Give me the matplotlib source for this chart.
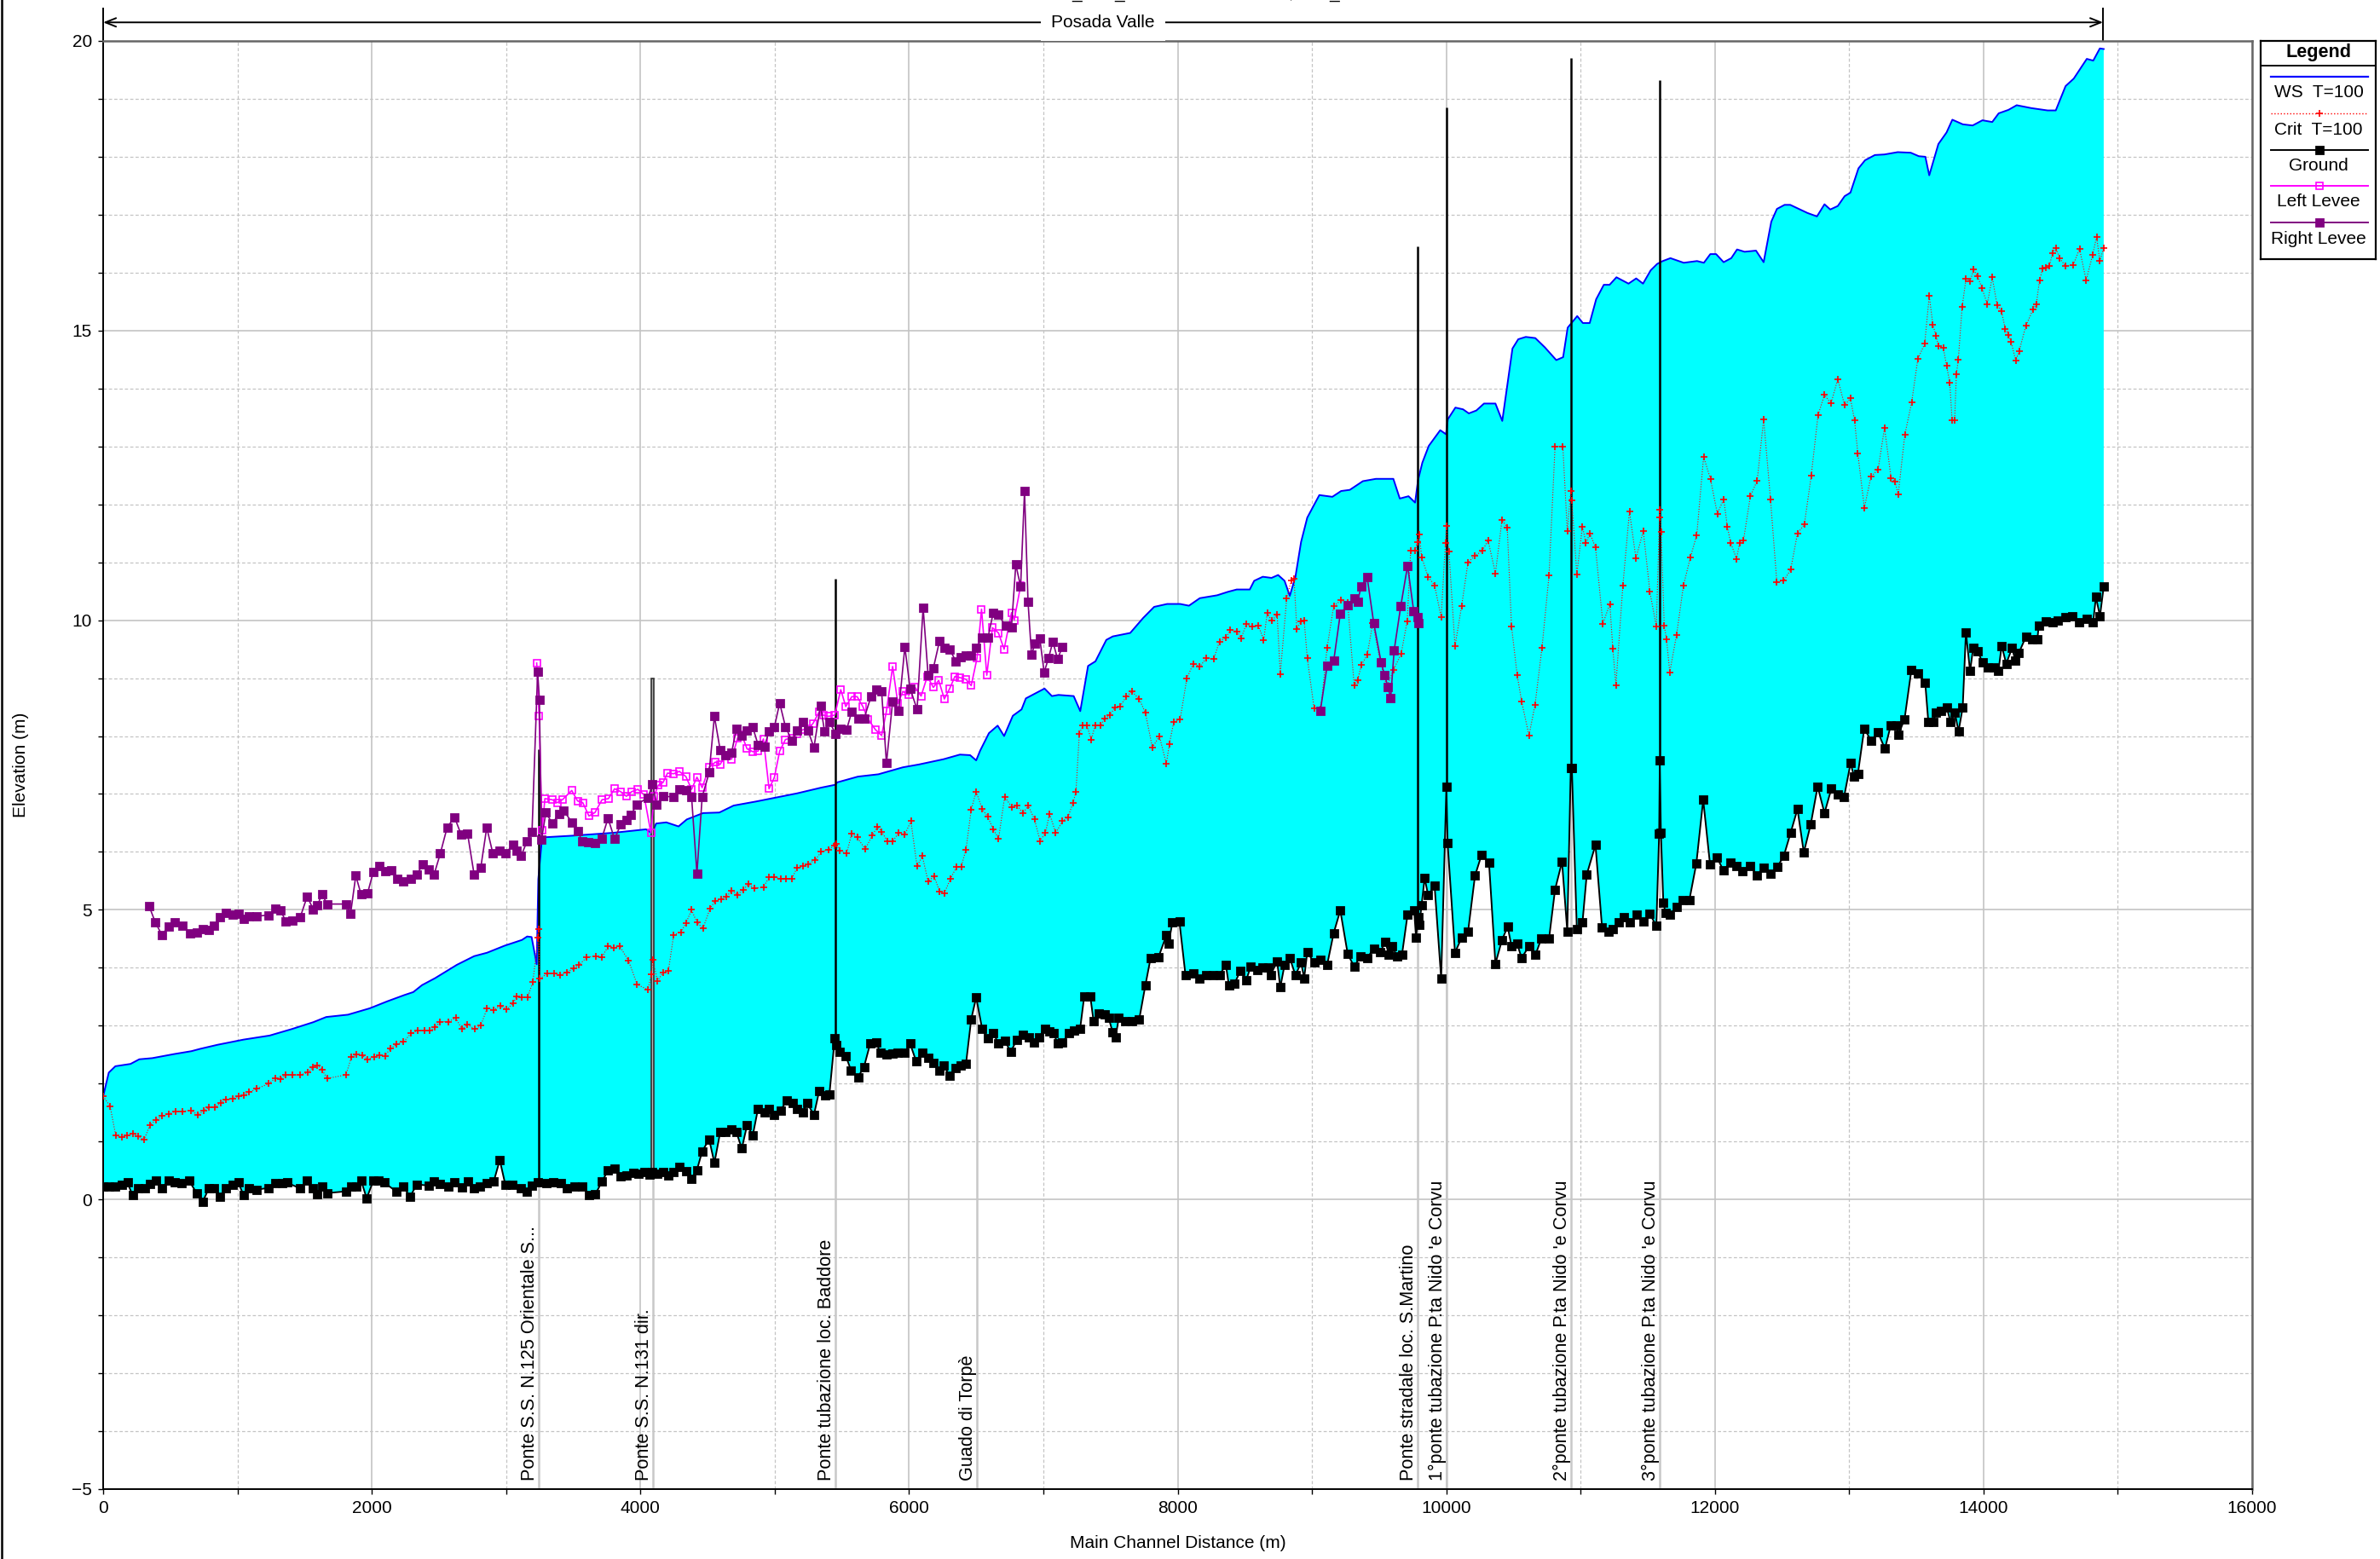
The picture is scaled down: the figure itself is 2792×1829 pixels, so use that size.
import numpy as np
import matplotlib.pyplot as plt
from matplotlib.ticker import MultipleLocator
from matplotlib.lines import Line2D

plt.rcParams['font.family'] = ['Liberation Sans', 'DejaVu Sans']

# --- profile data: (main channel distance m, elevation m) ---
ws_pts = [
    (0, 1.78), (42, 2.19), (91, 2.3), (204, 2.34), (269, 2.42), (366, 2.44), (528, 2.51), (657, 2.56),
    (722, 2.6), (851, 2.67), (1046, 2.76), (1240, 2.83), (1402, 2.94), (1564, 3.06), (1661, 3.15),
    (1823, 3.19), (1985, 3.3), (2115, 3.42), (2244, 3.53), (2309, 3.58), (2374, 3.7), (2471, 3.82),
    (2633, 4.05), (2762, 4.2), (2859, 4.26), (2988, 4.38), (3118, 4.48), (3157, 4.54), (3190, 4.53),
    (3228, 4.06), (3240, 5.53), (3268, 6.25), (3495, 6.28), (3799, 6.33), (4042, 6.39), (4087, 6.32),
    (4117, 6.49), (4193, 6.51), (4284, 6.44), (4345, 6.56), (4466, 6.67), (4588, 6.68), (4694, 6.8),
    (4861, 6.87), (5013, 6.94), (5165, 7.01), (5347, 7.11), (5453, 7.16), (5465, 7.2), (5620, 7.3),
    (5772, 7.34), (5954, 7.46), (6075, 7.51), (6257, 7.6), (6379, 7.68), (6455, 7.67), (6500, 7.58),
    (6530, 7.75), (6595, 8.05), (6660, 8.18), (6708, 8.0), (6773, 8.35), (6838, 8.46), (6870, 8.65),
    (6951, 8.75), (7009, 8.82), (7064, 8.69), (7113, 8.71), (7226, 8.69), (7275, 8.43), (7333, 9.21),
    (7388, 9.29), (7469, 9.66), (7517, 9.72), (7647, 9.78), (7744, 10.04), (7825, 10.23), (7922, 10.28),
    (8019, 10.28), (8084, 10.25), (8165, 10.38), (8294, 10.43), (8375, 10.49), (8440, 10.53),
    (8537, 10.53), (8570, 10.68), (8634, 10.75), (8699, 10.73), (8748, 10.78), (8796, 10.68),
    (8835, 10.42), (8877, 10.75), (8919, 11.35), (8965, 11.77), (9055, 12.16), (9152, 12.13),
    (9217, 12.23), (9282, 12.25), (9379, 12.4), (9476, 12.44), (9606, 12.44), (9654, 12.1),
    (9719, 12.14), (9768, 12.03), (9790, 12.42), (9822, 12.72), (9870, 13.01), (9955, 13.28),
    (9998, 13.21), (10012, 13.47), (10068, 13.67), (10125, 13.64), (10168, 13.57), (10224, 13.62),
    (10281, 13.74), (10366, 13.74), (10417, 13.44), (10451, 14.0), (10493, 14.69), (10536, 14.85),
    (10592, 14.89), (10663, 14.87), (10734, 14.71), (10819, 14.49), (10870, 14.54), (10904, 15.05),
    (10975, 15.25), (11017, 15.13), (11068, 15.13), (11116, 15.54), (11173, 15.79), (11216, 15.79),
    (11267, 15.92), (11357, 15.81), (11414, 15.9), (11465, 15.81), (11522, 16.04), (11570, 16.15),
    (11612, 16.2), (11669, 16.25), (11768, 16.17), (11867, 16.2), (11918, 16.17), (11966, 16.32),
    (12009, 16.32), (12065, 16.18), (12122, 16.25), (12165, 16.4), (12221, 16.36), (12306, 16.38),
    (12363, 16.18), (12420, 16.88), (12462, 17.1), (12519, 17.17), (12561, 17.17), (12689, 17.03),
    (12760, 16.97), (12816, 17.18), (12859, 17.09), (12915, 17.15), (12966, 17.32), (13009, 17.38),
    (13069, 17.8), (13118, 17.94), (13191, 18.03), (13263, 18.04), (13361, 18.08), (13458, 18.07),
    (13518, 18.01), (13567, 18.0), (13596, 17.68), (13664, 18.22), (13725, 18.42), (13768, 18.64),
    (13846, 18.56), (13919, 18.54), (13992, 18.63), (14065, 18.6), (14113, 18.75), (14186, 18.81),
    (14247, 18.89), (14356, 18.84), (14477, 18.8), (14538, 18.8), (14611, 19.22), (14672, 19.35),
    (14769, 19.69), (14817, 19.66), (14866, 19.87), (14895, 19.86),
]

crit_pts = [
    (0, 1.78), (52, 1.61), (94, 1.1), (139, 1.07), (178, 1.1), (220, 1.14), (262, 1.09), (304, 1.03),
    (350, 1.29), (392, 1.37), (440, 1.44), (489, 1.48), (541, 1.52), (593, 1.52), (651, 1.54),
    (706, 1.46), (748, 1.53), (787, 1.59), (832, 1.59), (877, 1.67), (916, 1.73), (965, 1.74),
    (1007, 1.78), (1046, 1.8), (1085, 1.85), (1143, 1.91), (1234, 2.0), (1279, 2.09), (1321, 2.08),
    (1360, 2.15), (1409, 2.15), (1467, 2.15), (1525, 2.19), (1564, 2.29), (1596, 2.32), (1629, 2.24),
    (1668, 2.09), (1807, 2.15), (1849, 2.46), (1888, 2.51), (1927, 2.49), (1969, 2.42), (2017, 2.46),
    (2056, 2.49), (2098, 2.48), (2140, 2.61), (2186, 2.68), (2237, 2.72), (2293, 2.87), (2341, 2.91),
    (2390, 2.91), (2432, 2.91), (2471, 2.97), (2510, 3.07), (2568, 3.07), (2626, 3.13), (2671, 2.94),
    (2713, 3.02), (2768, 2.94), (2811, 3.0), (2859, 3.3), (2908, 3.27), (2956, 3.34), (3005, 3.28),
    (3053, 3.39), (3079, 3.51), (3118, 3.49), (3160, 3.49), (3199, 3.75), (3238, 4.52), (3241, 4.67),
    (3250, 3.81), (3306, 3.9), (3355, 3.9), (3404, 3.88), (3452, 3.92), (3504, 3.99), (3543, 4.05),
    (3601, 4.18), (3666, 4.2), (3714, 4.18), (3759, 4.37), (3804, 4.35), (3847, 4.37), (3912, 4.12),
    (3976, 3.71), (4057, 3.62), (4081, 3.89), (4093, 4.14), (4127, 3.77), (4169, 3.92), (4208, 3.94),
    (4248, 4.57), (4300, 4.61), (4339, 4.77), (4381, 5.0), (4421, 4.78), (4466, 4.68), (4518, 5.02),
    (4558, 5.16), (4603, 5.18), (4642, 5.23), (4679, 5.33), (4724, 5.26), (4764, 5.35), (4806, 5.44),
    (4846, 5.37), (4916, 5.39), (4958, 5.56), (4998, 5.56), (5043, 5.54), (5083, 5.54), (5128, 5.54),
    (5165, 5.72), (5210, 5.75), (5249, 5.79), (5301, 5.86), (5347, 6.0), (5401, 6.04), (5447, 6.11),
    (5455, 6.14), (5483, 6.02), (5535, 5.97), (5574, 6.32), (5614, 6.25), (5674, 6.05), (5726, 6.28),
    (5765, 6.44), (5796, 6.35), (5838, 6.19), (5878, 6.18), (5923, 6.33), (5969, 6.3), (6014, 6.53),
    (6060, 5.75), (6099, 5.93), (6142, 5.49), (6187, 5.58), (6227, 5.32), (6263, 5.29), (6309, 5.54),
    (6354, 5.74), (6388, 5.74), (6424, 6.04), (6463, 6.73), (6500, 7.04), (6545, 6.74), (6585, 6.61),
    (6627, 6.39), (6667, 6.23), (6712, 6.95), (6767, 6.77), (6803, 6.8), (6849, 6.67), (6888, 6.8),
    (6934, 6.56), (6976, 6.19), (7016, 6.33), (7046, 6.66), (7092, 6.33), (7143, 6.53), (7183, 6.6),
    (7222, 6.85), (7243, 7.04), (7268, 8.04), (7295, 8.18), (7325, 8.18), (7356, 7.94), (7386, 8.18),
    (7426, 8.18), (7456, 8.3), (7495, 8.36), (7532, 8.49), (7571, 8.51), (7617, 8.68), (7659, 8.77),
    (7714, 8.64), (7760, 8.4), (7812, 7.8), (7864, 8.0), (7916, 7.52), (7938, 7.86), (7971, 8.24),
    (8019, 8.29), (8068, 8.99), (8116, 9.25), (8165, 9.2), (8213, 9.34), (8268, 9.33), (8311, 9.63),
    (8359, 9.7), (8392, 9.83), (8440, 9.81), (8473, 9.69), (8511, 9.93), (8553, 9.89), (8602, 9.9),
    (8641, 9.66), (8667, 10.13), (8699, 9.99), (8741, 10.09), (8764, 9.06), (8812, 10.38), (8845, 10.68),
    (8867, 10.71), (8887, 9.85), (8919, 9.98), (8942, 10.0), (8965, 9.35), (9016, 8.48), (9065, 8.46),
    (9113, 9.53), (9162, 10.25), (9217, 10.34), (9266, 10.3), (9314, 8.88), (9340, 8.97), (9369, 9.23),
    (9411, 9.4), (9453, 9.95), (9508, 9.29), (9557, 8.85), (9606, 9.14), (9664, 9.42), (9709, 9.98),
    (9735, 11.2), (9768, 11.2), (9784, 11.35), (9800, 11.48), (9816, 11.09), (9865, 10.75), (9913, 10.6),
    (9962, 10.05), (9994, 11.33), (10001, 11.63), (10020, 11.18), (10065, 9.55), (10114, 10.24),
    (10162, 11.0), (10214, 11.11), (10269, 11.2), (10311, 11.38), (10366, 10.81), (10415, 11.73),
    (10454, 11.6), (10486, 9.89), (10528, 9.05), (10561, 8.6), (10616, 8.01), (10661, 8.54),
    (10713, 9.53), (10765, 10.77), (10810, 13.0), (10868, 13.0), (10901, 11.54), (10927, 12.23),
    (10935, 12.07), (10972, 10.79), (11014, 11.62), (11040, 11.33), (11069, 11.5), (11111, 11.26),
    (11166, 9.94), (11218, 10.28), (11240, 9.51), (11263, 8.88), (11315, 10.6), (11364, 11.88),
    (11412, 11.07), (11467, 11.54), (11516, 10.49), (11564, 9.89), (11587, 11.77), (11592, 11.91),
    (11600, 11.53), (11623, 9.9), (11640, 9.67), (11664, 9.1), (11715, 9.75), (11766, 10.6),
    (11817, 11.08), (11865, 11.47), (11916, 12.82), (11967, 12.44), (12018, 11.84), (12066, 12.09),
    (12093, 11.61), (12117, 11.34), (12161, 11.06), (12185, 11.34), (12213, 11.38), (12264, 12.14),
    (12315, 12.41), (12363, 13.47), (12414, 12.09), (12461, 10.66), (12512, 10.68), (12564, 10.87),
    (12615, 11.5), (12666, 11.65), (12717, 12.49), (12768, 13.54), (12816, 13.89), (12864, 13.74),
    (12915, 14.16), (12966, 13.71), (13009, 13.83), (13040, 13.45), (13064, 12.88), (13113, 11.94),
    (13162, 12.48), (13215, 12.6), (13263, 13.32), (13312, 12.45), (13341, 12.39), (13365, 12.17),
    (13414, 13.2), (13465, 13.76), (13511, 14.51), (13562, 14.77), (13596, 15.6), (13623, 15.1),
    (13647, 14.91), (13664, 14.73), (13701, 14.7), (13725, 14.39), (13749, 14.1), (13766, 13.45),
    (13785, 13.45), (13798, 14.25), (13812, 14.49), (13841, 15.41), (13870, 15.9), (13900, 15.85),
    (13926, 16.05), (13955, 15.94), (13987, 15.74), (14028, 15.46), (14065, 15.92), (14101, 15.44),
    (14133, 15.34), (14162, 15.03), (14186, 14.93), (14206, 14.8), (14240, 14.48), (14266, 14.65),
    (14315, 15.08), (14368, 15.36), (14393, 15.45), (14417, 15.87), (14441, 16.07), (14465, 16.09),
    (14490, 16.11), (14514, 16.34), (14538, 16.43), (14567, 16.25), (14611, 16.11), (14667, 16.13),
    (14715, 16.41), (14764, 15.87), (14813, 16.31), (14842, 16.62), (14866, 16.2), (14895, 16.43),
]

ground_pts = [
    (0, 0.23), (42, 0.22), (91, 0.23), (139, 0.26), (181, 0.29), (220, 0.07), (262, 0.19), (311, 0.19),
    (350, 0.27), (392, 0.32), (437, 0.2), (486, 0.32), (534, 0.29), (583, 0.28), (641, 0.32),
    (696, 0.11), (741, -0.04), (787, 0.19), (826, 0.2), (871, 0.05), (916, 0.19), (965, 0.26),
    (1007, 0.29), (1046, 0.07), (1088, 0.19), (1143, 0.17), (1234, 0.2), (1282, 0.28), (1331, 0.28),
    (1370, 0.29), (1467, 0.19), (1519, 0.32), (1564, 0.2), (1596, 0.09), (1629, 0.23), (1668, 0.11),
    (1807, 0.14), (1846, 0.23), (1888, 0.22), (1920, 0.33), (1962, 0.02), (2011, 0.32), (2053, 0.32),
    (2095, 0.29), (2186, 0.13), (2231, 0.23), (2286, 0.05), (2335, 0.26), (2422, 0.24), (2464, 0.31),
    (2510, 0.27), (2568, 0.23), (2616, 0.29), (2671, 0.21), (2717, 0.31), (2762, 0.19), (2804, 0.23),
    (2859, 0.28), (2908, 0.31), (2953, 0.68), (2995, 0.25), (3047, 0.26), (3108, 0.19), (3154, 0.14),
    (3193, 0.24), (3238, 0.29), (3300, 0.28), (3351, 0.29), (3410, 0.28), (3455, 0.2), (3507, 0.23),
    (3565, 0.23), (3620, 0.08), (3665, 0.09), (3714, 0.31), (3759, 0.5), (3808, 0.53), (3853, 0.4),
    (3899, 0.41), (3947, 0.46), (3986, 0.45), (4028, 0.47), (4070, 0.43), (4087, 0.48), (4127, 0.44),
    (4169, 0.48), (4208, 0.42), (4248, 0.48), (4290, 0.56), (4339, 0.49), (4381, 0.35), (4421, 0.51),
    (4460, 0.83), (4512, 1.04), (4551, 0.63), (4594, 1.16), (4633, 1.16), (4679, 1.21), (4715, 1.16),
    (4755, 0.88), (4794, 1.28), (4837, 1.11), (4876, 1.57), (4922, 1.5), (4958, 1.57), (4998, 1.46),
    (5043, 1.53), (5089, 1.71), (5134, 1.67), (5165, 1.57), (5210, 1.5), (5240, 1.67), (5292, 1.46),
    (5331, 1.87), (5377, 1.8), (5407, 1.81), (5447, 2.78), (5459, 2.66), (5483, 2.55), (5529, 2.48),
    (5568, 2.23), (5620, 2.11), (5665, 2.29), (5711, 2.69), (5756, 2.71), (5787, 2.53), (5832, 2.5),
    (5878, 2.52), (5917, 2.53), (5969, 2.53), (6008, 2.69), (6054, 2.38), (6099, 2.53), (6142, 2.45),
    (6181, 2.36), (6227, 2.22), (6257, 2.32), (6303, 2.13), (6348, 2.27), (6384, 2.32), (6424, 2.34),
    (6463, 3.11), (6500, 3.49), (6545, 2.94), (6585, 2.78), (6627, 2.87), (6667, 2.69), (6712, 2.74),
    (6758, 2.55), (6803, 2.76), (6849, 2.85), (6894, 2.8), (6931, 2.71), (6970, 2.8), (7010, 2.95),
    (7046, 2.9), (7076, 2.87), (7107, 2.69), (7143, 2.71), (7189, 2.87), (7228, 2.92), (7274, 2.95),
    (7304, 3.5), (7350, 3.5), (7374, 3.08), (7410, 3.21), (7456, 3.19), (7486, 3.14), (7517, 2.88),
    (7538, 2.8), (7562, 3.14), (7608, 3.08), (7659, 3.08), (7714, 3.11), (7760, 3.7), (7799, 4.17),
    (7857, 4.18), (7916, 4.56), (7932, 4.41), (7961, 4.78), (8013, 4.8), (8058, 3.88), (8116, 3.9),
    (8165, 3.82), (8213, 3.87), (8262, 3.88), (8311, 3.87), (8359, 4.05), (8382, 3.69), (8424, 3.73),
    (8466, 3.94), (8511, 3.79), (8544, 4.02), (8592, 3.96), (8634, 4.0), (8673, 4.0), (8693, 3.88),
    (8741, 4.11), (8764, 3.66), (8796, 4.05), (8835, 4.17), (8877, 3.87), (8919, 4.09), (8942, 3.82),
    (8965, 4.27), (9016, 4.09), (9065, 4.14), (9113, 4.05), (9162, 4.6), (9211, 4.99), (9266, 4.24),
    (9314, 4.02), (9363, 4.2), (9411, 4.17), (9460, 4.33), (9508, 4.27), (9547, 4.45), (9573, 4.22),
    (9599, 4.37), (9632, 4.2), (9670, 4.22), (9712, 4.92), (9761, 4.99), (9775, 4.52), (9790, 4.87),
    (9800, 4.74), (9816, 5.08), (9839, 5.55), (9865, 5.25), (9913, 5.42), (9962, 3.81), (10001, 7.13),
    (10010, 6.15), (10065, 4.26), (10114, 4.52), (10162, 4.62), (10214, 5.59), (10263, 5.95),
    (10318, 5.82), (10366, 4.07), (10415, 4.48), (10457, 4.71), (10486, 4.37), (10528, 4.41),
    (10561, 4.17), (10616, 4.37), (10664, 4.22), (10707, 4.5), (10765, 4.5), (10810, 5.35),
    (10862, 5.83), (10901, 4.63), (10927, 7.45), (10935, 7.45), (10972, 4.67), (11014, 4.78),
    (11046, 5.61), (11111, 6.12), (11160, 4.69), (11208, 4.62), (11240, 4.67), (11282, 4.78),
    (11321, 4.87), (11370, 4.78), (11419, 4.92), (11467, 4.8), (11516, 4.93), (11564, 4.72),
    (11585, 6.32), (11590, 7.58), (11598, 6.33), (11616, 5.13), (11633, 4.94), (11667, 4.92),
    (11715, 5.05), (11763, 5.17), (11810, 5.17), (11862, 5.8), (11913, 6.9), (11964, 5.78),
    (12015, 5.91), (12063, 5.68), (12114, 5.82), (12161, 5.76), (12202, 5.67), (12264, 5.76),
    (12311, 5.6), (12363, 5.72), (12414, 5.63), (12465, 5.74), (12513, 5.93), (12564, 6.33),
    (12615, 6.74), (12662, 5.99), (12714, 6.48), (12765, 7.13), (12816, 6.67), (12867, 7.09),
    (12918, 6.99), (12962, 6.95), (13010, 7.53), (13037, 7.3), (13065, 7.35), (13112, 8.13),
    (13163, 7.92), (13215, 8.06), (13266, 7.78), (13310, 8.19), (13351, 8.19), (13365, 8.02),
    (13412, 8.29), (13463, 9.14), (13514, 9.08), (13566, 8.92), (13589, 8.25), (13627, 8.25),
    (13644, 8.4), (13685, 8.44), (13726, 8.5), (13753, 8.25), (13787, 8.4), (13814, 8.08),
    (13845, 8.49), (13869, 9.79), (13900, 9.12), (13923, 9.52), (13958, 9.46), (13992, 9.27),
    (14033, 9.19), (14077, 9.18), (14111, 9.12), (14135, 9.56), (14169, 9.25), (14213, 9.52),
    (14237, 9.3), (14264, 9.44), (14315, 9.71), (14360, 9.67), (14401, 9.67), (14411, 9.9),
    (14462, 9.98), (14513, 9.96), (14554, 9.99), (14612, 10.05), (14663, 10.07), (14714, 9.96),
    (14769, 10.02), (14816, 9.96), (14837, 10.4), (14867, 10.07), (14895, 10.58),
]

left_levee_pts = [
    (3228, 9.26), (3246, 8.34), (3268, 6.37), (3289, 6.92), (3344, 6.9), (3380, 6.85), (3419, 6.9),
    (3489, 7.06), (3532, 6.88), (3571, 6.85), (3617, 6.62), (3662, 6.68), (3714, 6.9), (3762, 6.92),
    (3808, 7.09), (3853, 7.04), (3896, 6.96), (3935, 7.04), (3981, 7.08), (4026, 6.99), (4078, 6.33),
    (4102, 6.96), (4133, 7.15), (4169, 7.2), (4202, 7.36), (4248, 7.35), (4290, 7.39), (4339, 7.3),
    (4381, 7.08), (4421, 7.29), (4460, 7.11), (4512, 7.46), (4558, 7.55), (4594, 7.51), (4633, 7.67),
    (4679, 7.6), (4724, 7.97), (4755, 8.02), (4794, 7.78), (4837, 7.73), (4876, 7.74), (4916, 7.95),
    (4958, 7.09), (4998, 7.29), (5037, 7.74), (5080, 7.94), (5128, 7.97), (5165, 8.04), (5210, 8.11),
    (5249, 8.13), (5286, 8.22), (5331, 8.42), (5362, 8.36), (5401, 8.34), (5447, 8.36), (5492, 8.8),
    (5529, 8.51), (5574, 8.68), (5614, 8.68), (5656, 8.51), (5696, 8.29), (5750, 8.11), (5796, 8.01),
    (5832, 8.43), (5878, 9.2), (5917, 8.56), (5954, 8.77), (5999, 8.71), (6045, 8.84), (6090, 8.69),
    (6136, 9.03), (6181, 8.84), (6221, 8.96), (6263, 8.64), (6303, 8.82), (6342, 9.03), (6379, 9.01),
    (6424, 8.98), (6463, 8.87), (6506, 9.34), (6540, 10.19), (6579, 9.05), (6621, 9.87), (6666, 9.78),
    (6708, 9.5), (6763, 10.13), (6783, 10.0), (6831, 10.6),
]

# the right levee is defined on two separate reaches (gap marked by nan)
right_levee_pts = [
    (343, 5.06), (389, 4.78), (437, 4.57), (486, 4.71), (534, 4.78), (593, 4.73), (648, 4.59),
    (696, 4.61), (741, 4.67), (787, 4.65), (826, 4.73), (871, 4.87), (916, 4.95), (965, 4.92),
    (1007, 4.93), (1046, 4.84), (1085, 4.89), (1143, 4.89), (1234, 4.91), (1279, 5.02), (1321, 4.99),
    (1360, 4.8), (1409, 4.81), (1467, 4.87), (1519, 5.23), (1564, 5.01), (1596, 5.08), (1629, 5.27),
    (1668, 5.1), (1807, 5.1), (1842, 4.93), (1881, 5.59), (1920, 5.27), (1969, 5.29), (2011, 5.65),
    (2056, 5.76), (2101, 5.67), (2147, 5.68), (2192, 5.53), (2237, 5.49), (2289, 5.53), (2335, 5.61),
    (2380, 5.78), (2422, 5.7), (2464, 5.61), (2510, 5.97), (2561, 6.42), (2616, 6.6), (2665, 6.3),
    (2713, 6.32), (2762, 5.61), (2811, 5.72), (2856, 6.42), (2901, 5.98), (2950, 6.02), (2998, 5.98),
    (3053, 6.13), (3079, 6.02), (3112, 5.93), (3157, 6.19), (3193, 6.34), (3235, 9.11), (3248, 8.63),
    (3264, 6.21), (3296, 6.68), (3345, 6.49), (3394, 6.66), (3426, 6.72), (3491, 6.51), (3533, 6.36),
    (3565, 6.19), (3610, 6.17), (3662, 6.15), (3711, 6.22), (3759, 6.58), (3808, 6.22), (3853, 6.47),
    (3895, 6.55), (3928, 6.64), (3976, 6.82), (4057, 6.94), (4090, 7.17), (4122, 6.82), (4171, 6.96),
    (4245, 6.95), (4290, 7.08), (4339, 7.06), (4381, 6.95), (4421, 5.63), (4460, 6.95), (4512, 7.37),
    (4551, 8.34), (4594, 7.76), (4633, 7.67), (4679, 7.71), (4715, 8.13), (4755, 8.01), (4794, 8.09),
    (4837, 8.15), (4876, 7.85), (4922, 7.81), (4958, 8.08), (4998, 8.16), (5037, 8.57), (5080, 8.16),
    (5128, 7.92), (5165, 8.09), (5210, 8.25), (5249, 8.09), (5292, 7.8), (5341, 8.53), (5371, 8.08),
    (5407, 8.25), (5453, 8.04), (5492, 8.13), (5535, 8.11), (5574, 8.42), (5620, 8.3), (5665, 8.3),
    (5717, 8.68), (5756, 8.8), (5796, 8.77), (5832, 7.53), (5878, 8.6), (5923, 8.43), (5969, 9.54),
    (6008, 8.82), (6060, 8.46), (6105, 10.22), (6142, 9.05), (6181, 9.17), (6227, 9.64), (6263, 9.52),
    (6303, 9.5), (6348, 9.29), (6384, 9.36), (6424, 9.39), (6463, 9.39), (6500, 9.52), (6546, 9.7),
    (6588, 9.7), (6627, 10.13), (6666, 10.1), (6718, 9.9), (6763, 9.88), (6795, 10.96), (6831, 10.58),
    (6860, 12.23), (6886, 10.32), (6912, 9.4), (6938, 9.6), (6974, 9.68), (7006, 9.1), (7038, 9.34),
    (7071, 9.63), (7106, 9.33), (7142, 9.54),
    (np.nan, np.nan),
    (9062, 8.43), (9113, 9.21), (9162, 9.3), (9211, 10.11), (9266, 10.26), (9314, 10.38), (9340, 10.32),
    (9366, 10.58), (9411, 10.74), (9460, 9.95), (9515, 9.27), (9541, 9.05), (9567, 8.84), (9586, 8.65),
    (9612, 9.48), (9661, 10.24), (9712, 10.94), (9758, 10.15), (9784, 10.05), (9790, 9.95),
]

# structures along the reach
struct_x = [3240, 4092, 5450, 6504, 9784, 10005, 10930, 11590]
struct_low = [0.29, 0.45, 2.7, 3.5, 4.9, 7.1, 7.45, 7.58]
struct_top = [7.77, 9.0, 10.72, np.nan, 16.46, 18.85, 19.7, 19.33]
struct_width = [0, 21, 0, 0, 0, 0, 0, 0]
struct_labels = [
    "Ponte S.S. N.125 Orientale S...",
    "Ponte S.S. N.131 dir.",
    "Ponte tubazione loc. Baddore",
    "Guado di Torpè",
    "Ponte stradale loc. S.Martino",
    "1°ponte tubazione P.ta Nido 'e Corvu",
    "2°ponte tubazione P.ta Nido 'e Corvu",
    "3°ponte tubazione P.ta Nido 'e Corvu",
]
reach_name = "Posada Valle"
reach_start, reach_end = 0, 14890

ws_x, ws_y = map(list, zip(*ws_pts))
crit_x, crit_y = zip(*crit_pts)
ground_x, ground_y = map(list, zip(*ground_pts))
ll_x, ll_y = zip(*left_levee_pts)
rl_x, rl_y = zip(*right_levee_pts)

W, H = 2792, 1829
fig = plt.figure(figsize=(W / 200, H / 200), dpi=200)
ax = fig.add_axes([121 / W, 1 - 1747 / H, 2521 / W, 1699 / H])

ax.set_xlim(0, 16000)
ax.set_ylim(-5, 20)
ax.xaxis.set_major_locator(MultipleLocator(2000))
ax.xaxis.set_minor_locator(MultipleLocator(1000))
ax.yaxis.set_major_locator(MultipleLocator(5))
ax.yaxis.set_minor_locator(MultipleLocator(1))
ax.set_axisbelow(True)
ax.grid(which='major', color='#c4c4c4', lw=0.6, ls='-')
ax.grid(which='minor', color='#c4c4c4', lw=0.45, ls=(0, (3, 2)))
ax.tick_params(which='both', direction='out', length=2.2, width=0.5,
               labelsize=7.5, pad=2.5, top=False, right=False)

for side in ['left', 'bottom']:
    ax.spines[side].set_color('black')
    ax.spines[side].set_linewidth(0.7)
for side in ['top', 'right']:
    ax.spines[side].set_color('#666666')
    ax.spines[side].set_linewidth(0.9)

# water between ground and water surface
ax.fill(ws_x + ground_x[::-1], ws_y + ground_y[::-1], color='#00ffff', lw=0, zorder=1)

# structure marks and labels
ax.vlines(struct_x, -5, struct_low, colors='#c8c8c8', lw=0.9, zorder=0.8)
for x, lo, top, w, lab in zip(struct_x, struct_low, struct_top, struct_width, struct_labels):
    if not np.isnan(top):
        if w > 0:
            ax.bar(x, top - lo, bottom=lo, width=w, color='#b4b4b4',
                   edgecolor='#303030', lw=0.6, zorder=3)
        else:
            ax.vlines(x, lo, top, colors='black', lw=0.9, zorder=3)
    ax.text(x, -4.86, lab, rotation=90, ha='right', va='bottom', fontsize=7.8, zorder=6)

ax.plot(ws_x, ws_y, color='#0000ff', lw=0.7, zorder=2.5)
ax.plot(crit_x, crit_y, color='red', lw=0.4, ls=':', marker='+', ms=3.0, mew=0.6, zorder=3.3)
ax.plot(ground_x, ground_y, color='black', lw=0.7, marker='s', ms=2.7, zorder=4)
ax.plot(ll_x, ll_y, color='#ff00ff', lw=0.6, marker='s', ms=2.6, mfc='none',
        mec='#ff00ff', mew=0.6, zorder=4.5)
ax.plot(rl_x, rl_y, color='#800080', lw=0.6, marker='s', ms=2.7, zorder=5)

# reach header above the plot
y_arrow = 20.32
ax.annotate('', xy=(reach_start, y_arrow), xytext=(reach_end, y_arrow),
            arrowprops=dict(arrowstyle='<->, head_length=0.45, head_width=0.18',
                            color='black', lw=0.7, shrinkA=0, shrinkB=0),
            annotation_clip=False)
ax.text((reach_start + reach_end) / 2, y_arrow, reach_name, ha='center', va='center',
        fontsize=7.5, bbox=dict(facecolor='white', edgecolor='none', pad=4.5), clip_on=False)
ax.vlines([reach_start, reach_end], 20, 20.58, colors='black', lw=0.7, clip_on=False)

fig.text(25 / W, 1 - 897 / H, 'Elevation (m)', rotation=90, ha='center', va='center', fontsize=7.5)
fig.text(1382 / W, 1 - 1811 / H, 'Main Channel Distance (m)', ha='center', va='center', fontsize=7.5)

# clipped title remnants at the very top (cut off in the source as well)
for gx, gch in [(1263, '_'), (1313, '_'), (1514, ','), (1565, '_')]:
    fig.text(gx / W, 1 + 2 / H, gch, ha='center', va='baseline', fontsize=7.5)

# left border of the exported image
fig.add_artist(Line2D([1.5 / W, 1.5 / W], [0, 1], color='black', lw=0.9))

# legend box
lax = fig.add_axes([2652 / W, 1 - 304 / H, 135 / W, 256 / H])
lax.set_xlim(2652, 2787)
lax.set_ylim(304, 48)
lax.set_xticks([])
lax.set_yticks([])
for s in lax.spines.values():
    s.set_linewidth(0.8)
lax.text(2720, 61, 'Legend', ha='center', va='center', fontsize=7.8, fontweight='bold')
lax.axhline(77, color='black', lw=0.7)

legend_items = [
    ('WS  T=100', dict(color='#0000ff', lw=0.8), 90, 109),
    ('Crit  T=100', dict(color='red', lw=0.5, ls=':', marker='+', ms=3.2, mew=0.6), 133, 152),
    ('Ground', dict(color='black', lw=0.7, marker='s', ms=3.2), 176, 194),
    ('Left Levee', dict(color='#ff00ff', lw=0.7, marker='s', ms=3.2, mfc='none', mec='#ff00ff', mew=0.6), 218, 237),
    ('Right Levee', dict(color='#800080', lw=0.7, marker='s', ms=3.2), 261, 280),
]
for label, style, ly, ty in legend_items:
    lax.plot([2664, 2778], [ly, ly], **style, markevery=[])
    lax.plot([2721], [ly], **{k: v for k, v in style.items() if k not in ('ls', 'lw')}, ls='none')
    lax.text(2720, ty, label, ha='center', va='center', fontsize=7.5)

fig.savefig('out.png', dpi=200)
